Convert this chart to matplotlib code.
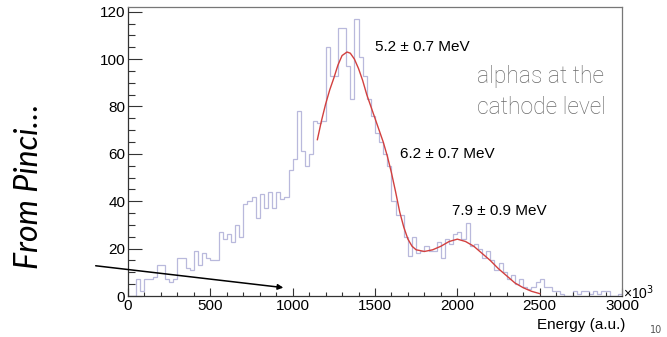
import numpy as np
import matplotlib
matplotlib.use("Agg")
import matplotlib.pyplot as plt
from matplotlib.ticker import MultipleLocator

# histogram: 120 bins of width 25 between 0 and 3000 (a.u.)
bin_edges = np.arange(0, 3001, 25)
counts = [0, 0, 7, 2, 7, 7, 8, 13, 13, 7,
          6, 7, 16, 16, 12, 11, 19, 13, 18, 16,
          15, 15, 27, 24, 26, 23, 30, 25, 39, 40,
          42, 33, 43, 37, 44, 37, 44, 41, 42, 53,
          58, 78, 61, 55, 60, 74, 73, 74, 105, 93,
          93, 113, 113, 97, 83, 117, 101, 93, 83, 76,
          69, 65, 60, 55, 40, 34, 34, 25, 17, 25,
          18, 19, 21, 19, 19, 23, 16, 24, 22, 26,
          27, 24, 31, 21, 22, 20, 16, 19, 15, 11,
          14, 10, 7, 9, 5, 7, 4, 3, 4, 6,
          7, 4, 4, 2, 2, 1, 0, 0, 2, 1,
          2, 2, 1, 2, 1, 2, 2, 0, 0, 1]

# fitted curve
fit_x = [1150, 1175, 1200, 1225, 1250, 1275, 1300, 1330, 1350, 1375,
         1400, 1425, 1450, 1475, 1500, 1525, 1550, 1575, 1600, 1625,
         1650, 1675, 1700, 1725, 1750, 1800, 1850, 1900, 1950, 2000,
         2050, 2100, 2150, 2200, 2250, 2300, 2350, 2400, 2450, 2500]
fit_y = [66, 74, 81, 87, 92, 97.5, 101.5, 103, 102.5, 100,
         96, 91, 85, 80, 75, 70, 65, 59, 52, 44,
         35.5, 29, 24, 21, 19.5, 18.8, 19.5, 21, 23, 24,
         23, 21, 18, 15, 11.5, 8.5, 5.5, 3.5, 2, 1]

peak_labels = ["5.2 \u00b1 0.7 MeV", "6.2 \u00b1 0.7 MeV", "7.9 \u00b1 0.9 MeV"]
peak_label_pos = [(1500, 105), (1653, 60), (1970, 36)]

num_font = ["Liberation Sans Narrow", "Liberation Sans", "DejaVu Sans"]

fig = plt.figure(figsize=(6.67, 3.37), dpi=100)
ax = fig.add_axes([128 / 667, 1 - 296 / 337, 494 / 667, 289 / 337])

ax.stairs(counts, bin_edges, color="#b9b9dc", lw=0.9)
ax.plot(fit_x, fit_y, color="#d2403f", lw=1.0)

ax.set_xlim(0, 3000)
ax.set_ylim(0, 122)

ax.xaxis.set_major_locator(MultipleLocator(500))
ax.xaxis.set_minor_locator(MultipleLocator(100))
ax.yaxis.set_major_locator(MultipleLocator(20))
ax.yaxis.set_minor_locator(MultipleLocator(5))
ax.tick_params(axis="both", which="both", direction="in", color="#333333", width=0.8)
ax.tick_params(axis="y", which="major", length=10, pad=2)
ax.tick_params(axis="y", which="minor", length=5)
ax.tick_params(axis="x", which="major", length=6, pad=2)
ax.tick_params(axis="x", which="minor", length=3)
for lab in ax.get_xticklabels() + ax.get_yticklabels():
    lab.set_family(num_font)
    lab.set_fontsize(11)

for side in ["left", "bottom"]:
    ax.spines[side].set_color("#333333")
    ax.spines[side].set_linewidth(0.9)
for side in ["top", "right"]:
    ax.spines[side].set_color("#777777")
    ax.spines[side].set_linewidth(0.9)

for txt, (x, y) in zip(peak_labels, peak_label_pos):
    ax.text(x, y, txt, ha="left", va="center", fontsize=11, family=num_font)

ax.text(2120, 86, "alphas at the\ncathode level", ha="left", va="center",
        fontsize=16.5, color="#6a6a6a", family=["Roboto", "DejaVu Sans"],
        fontweight="light", linespacing=1.45)

# arrow pointing at the low-energy part of the spectrum
ax.annotate("", xy=(960, 3.4), xytext=(-213, 12.9),
            arrowprops=dict(arrowstyle="-|>", color="black", lw=1.1, mutation_scale=8),
            annotation_clip=False)

ax.text(1.003, -0.02, "\u00d710$^{3}$", transform=ax.transAxes, ha="left", va="bottom",
        fontsize=10, family=num_font)
fig.text(625 / 667, 1 - 325 / 337, "Energy (a.u.)", ha="right", va="center",
         fontsize=11, family=num_font)
fig.text(29 / 667, 1 - 186 / 337, "From Pinci\u2026", rotation=90, ha="center", va="center",
         fontsize=23, style="italic", family=["Lato", "DejaVu Sans"])
fig.text(656 / 667, 1 - 330 / 337, "10", ha="center", va="center", fontsize=7, color="#555555")

fig.savefig("out.png", dpi=100)
